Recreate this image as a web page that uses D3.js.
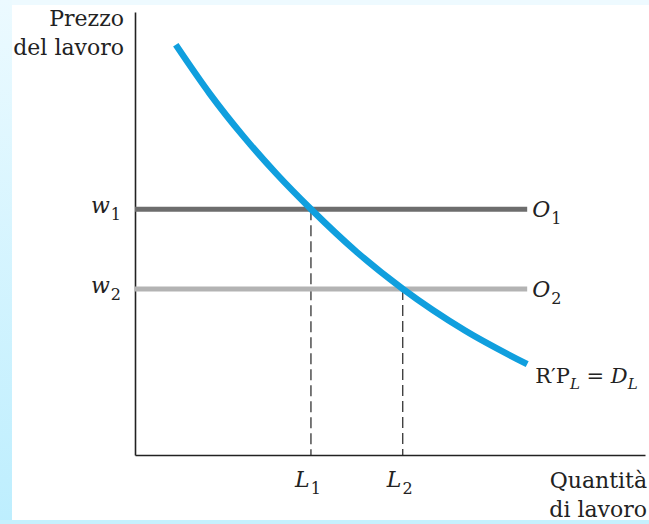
<!DOCTYPE html>
<html><head><meta charset="utf-8">
<script src="https://cdn.jsdelivr.net/npm/d3@7"></script>
<style>
html,body{margin:0;padding:0;background:#fff;}
svg{display:block;}
</style></head>
<body>
<svg id="chart" width="649" height="524"></svg>
<script>
// ---- data ----
const curveQ = [0.80, 1.47, 2.12, 2.78, 3.45, 4.35, 5.25, 6.47, 7.69];
const curveW = [9.26, 8.15, 7.20, 6.34, 5.55, 4.58, 3.75, 2.81, 2.05];
const wageLevels = [5.55, 3.75];
const wageSubs = ["1", "2"];
const labourLevels = [3.45, 5.25];
const labourSubs = ["1", "2"];
const supplySubs = ["1", "2"];
const supplyEnd = 7.69;
const yTitle = ["Prezzo", "del lavoro"];
const xTitle = ["Quantità", "di lavoro"];

const svg = d3.select("#chart");
const W = 649, H = 524;

// background frame
const defs = svg.append("defs");
const g1 = defs.append("linearGradient").attr("id","lg").attr("x1",0).attr("y1",0).attr("x2",0).attr("y2",1);
g1.append("stop").attr("offset","0%").attr("stop-color","#ecfaff");
g1.append("stop").attr("offset","100%").attr("stop-color","#bdeefe");
svg.append("rect").attr("x",0).attr("y",0).attr("width",W).attr("height",H).attr("fill","#fff");
svg.append("rect").attr("x",0).attr("y",0).attr("width",W).attr("height",5).attr("fill","#eefaff");
svg.append("rect").attr("x",0).attr("y",0).attr("width",12).attr("height",H).attr("fill","url(#lg)");
svg.append("rect").attr("x",0).attr("y",520).attr("width",W).attr("height",4).attr("fill","#c6f0fd");

const x = d3.scaleLinear().domain([0, 10]).range([135, 645]);
const y = d3.scaleLinear().domain([0, 10]).range([455, 12]);

// axes
svg.append("g").attr("transform",`translate(${x(0)},0)`)
  .call(d3.axisLeft(y).tickValues([]).tickSizeOuter(0))
  .select(".domain").attr("stroke","#222").attr("stroke-width",1.6);
svg.append("g").attr("transform",`translate(0,${y(0)})`)
  .call(d3.axisBottom(x).tickValues([]).tickSizeOuter(0))
  .select(".domain").attr("stroke","#222").attr("stroke-width",1.6);

// dashed drop lines
labourLevels.forEach((q,i)=>{
  svg.append("line").attr("x1",x(q)).attr("x2",x(q))
    .attr("y1",y(wageLevels[i])).attr("y2",y(0))
    .attr("stroke","#222").attr("stroke-width",1.2).attr("stroke-dasharray","11,5");
});

// supply lines
const supplyColors = ["#6d6d6d", "#b3b3b3"];
wageLevels.forEach((w,i)=>{
  svg.append("line").attr("x1",x(0)).attr("x2",x(supplyEnd))
    .attr("y1",y(w)).attr("y2",y(w))
    .attr("stroke",supplyColors[i]).attr("stroke-width",5);
});

// demand curve
const pts = curveQ.map((q,i)=>[q, curveW[i]]);
svg.append("path").datum(pts)
  .attr("d", d3.line().x(d=>x(d[0])).y(d=>y(d[1])).curve(d3.curveMonotoneX))
  .attr("fill","none").attr("stroke","#109fde").attr("stroke-width",6.5);

const serif = "'DejaVu Serif', serif";

// y title
yTitle.forEach((t,i)=>{
  svg.append("text").attr("x",124).attr("y",26+i*29).attr("text-anchor","end")
    .attr("font-family",serif).attr("font-size",22).attr("fill","#222").text(t);
});
// x title
xTitle.forEach((t,i)=>{
  svg.append("text").attr("x",647).attr("y",488+i*29).attr("text-anchor","end")
    .attr("font-family",serif).attr("font-size",22).attr("fill","#222").text(t);
});

function subLabel(xp, yp, main, sub, anchor){
  const t = svg.append("text").attr("x",xp).attr("y",yp).attr("text-anchor",anchor||"start")
    .attr("font-family",serif).attr("fill","#222");
  t.append("tspan").attr("font-size",22).attr("font-style","italic").text(main);
  t.append("tspan").attr("font-size",16).attr("dx",1).attr("dy",7).text(sub);
  return t;
}
// wage labels
wageLevels.forEach((w,i)=>{
  subLabel(121, y(w)+4, "w", wageSubs[i], "end");
});
// supply labels
wageLevels.forEach((w,i)=>{
  subLabel(x(supplyEnd)+5, y(w)+8, "O", supplySubs[i], "start");
});
// labour labels
labourLevels.forEach((q,i)=>{
  subLabel(x(q)-3, 487, "L", labourSubs[i], "middle");
});

// demand label
const last = pts[pts.length-1];
const dl = svg.append("text").attr("x",x(last[0])+8).attr("y",383)
  .attr("font-family",serif).attr("fill","#222").attr("font-size",21);
dl.append("tspan").text("R′P");
dl.append("tspan").attr("font-style","italic").attr("font-size",15).attr("dy",6).text("L");
dl.append("tspan").attr("dy",-6).text(" = ");
dl.append("tspan").attr("font-style","italic").text("D");
dl.append("tspan").attr("font-style","italic").attr("font-size",15).attr("dy",6).text("L");
</script>
</body></html>
